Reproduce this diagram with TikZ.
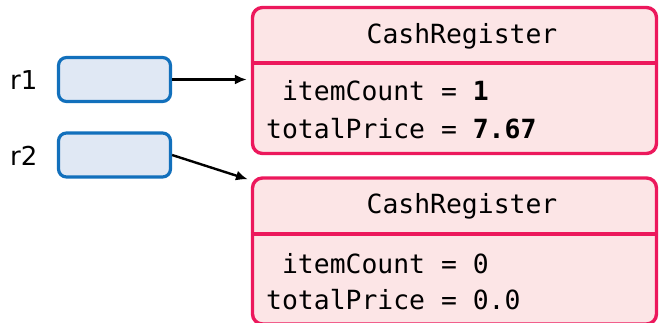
\documentclass[tikz,border=0pt]{standalone}
\usepackage{fontspec}
\setmonofont{DejaVu Sans Mono}
\setsansfont{DejaVu Sans}
\usetikzlibrary{arrows.meta}
\definecolor{objstroke}{RGB}{236,24,92}
\definecolor{objfill}{RGB}{252,229,230}
\definecolor{refstroke}{RGB}{18,112,188}
\definecolor{reffill}{RGB}{224,232,244}
\tikzset{
  objbox/.style={draw=objstroke, fill=objfill, line width=3.4pt, rounded corners=10pt,
    minimum width=404pt, minimum height=146pt, inner sep=0pt},
  refbox/.style={draw=refstroke, fill=reffill, line width=3.2pt, rounded corners=8pt,
    minimum width=112pt, minimum height=44pt, inner sep=0pt},
  divider/.style={draw=objstroke, line width=3.4pt},
  monotext/.style={font=\fontsize{26.4}{30}\selectfont\ttfamily, inner sep=0pt},
  reflabel/.style={font=\fontsize{26}{30}\selectfont\sffamily, inner sep=0pt, anchor=base west},
  ptr/.style={line width=2.4pt, -{Latex[length=12pt,width=10pt]}, shorten >=4pt},
}
\begin{document}
\begin{tikzpicture}[x=1pt,y=-1pt]
\useasboundingbox (0,0) rectangle (659,323);
% objects
\node[objbox] (obj1) at (454.5,80.5) {};
\node[objbox] (obj2) at (454.5,251) {};
\coordinate (d1l) at (obj1.west |- 0,63);
\coordinate (d1r) at (obj1.east |- 0,63);
\draw[divider] (d1l) -- (d1r);
\coordinate (d2l) at (obj2.west |- 0,234);
\coordinate (d2r) at (obj2.east |- 0,234);
\draw[divider] (d2l) -- (d2r);
\node[monotext, anchor=base] (t1) at (462,44) {CashRegister};
\node[monotext, anchor=base west] (f1a) at (266,101) {\hphantom{t}itemCount = \textbf{1}};
\node[monotext, anchor=base west] (f1b) at (266,139) {totalPrice = \textbf{7.67}};
\node[monotext, anchor=base] (t2) at (462,214) {CashRegister};
\node[monotext, anchor=base west] (f2a) at (266,273) {\hphantom{t}itemCount = 0};
\node[monotext, anchor=base west] (f2b) at (266,309) {totalPrice = 0.0};
% references
\node[refbox] (r1box) at (114.5,79.5) {};
\node[refbox] (r2box) at (114.5,155) {};
\node[reflabel] (r1) at (10,90) {r1};
\node[reflabel] (r2) at (10,166) {r2};
\draw[ptr] (r1box.east) -- (r1box.east -| obj1.west);
\draw[ptr, shorten >=3pt] (r2box.east) -- ([yshift=-4pt]obj2.north west);
\end{tikzpicture}
\end{document}
